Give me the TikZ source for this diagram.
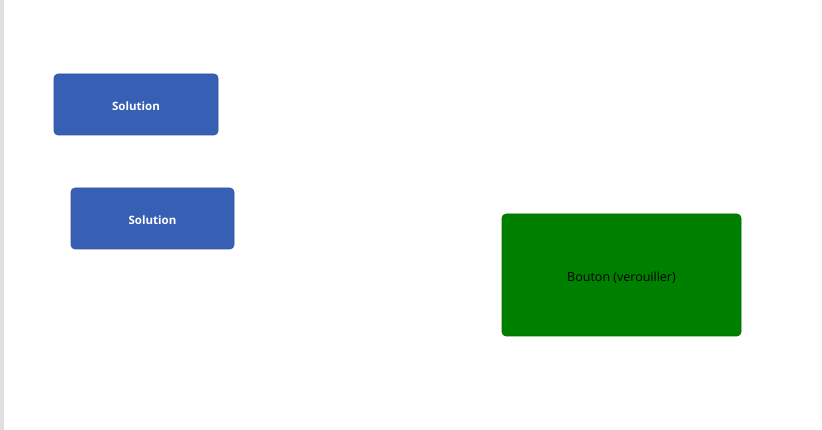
\documentclass[tikz,border=0pt]{standalone}
\usepackage{fontspec}
\setmainfont{Open Sans}
\definecolor{solblue}{HTML}{3760B4}
\definecolor{solborder}{HTML}{2F52A0}
\definecolor{btngreen}{HTML}{008000}
\definecolor{barGrey}{HTML}{E0E0E0}
\tikzset{
  solbox/.style={draw=solborder, fill=solblue, rounded corners=4pt, line width=0.6pt, inner sep=0pt},
  soltext/.style={text=white, font=\bfseries\fontsize{11.5}{13}\selectfont, inner sep=0pt},
  greenbox/.style={draw=btngreen!85!black, fill=btngreen, rounded corners=4pt, line width=0.6pt, inner sep=0pt},
  greentext/.style={text=black, font=\fontsize{12.5}{14}\selectfont, inner sep=0pt}
}
\begin{document}
\begin{tikzpicture}[x=1pt,y=-1pt]
\useasboundingbox (0,0) rectangle (822,430);
\fill[white] (0,0) rectangle (822,430);
\fill[barGrey] (0,0) rectangle (4,430);
\node[solbox, minimum width=164pt, minimum height=61pt] (s1) at (136,104.5) {};
\node[soltext] (s1t) at ([yshift=-1.2pt]s1.center) {Solution};
\node[solbox, minimum width=163pt, minimum height=61pt] (s2) at (152.5,218.5) {};
\node[soltext] (s2t) at ([yshift=-1.2pt]s2.center) {Solution};
\node[greenbox, minimum width=239pt, minimum height=122pt] (b) at (621.5,275) {};
\node[greentext] (bt) at ([yshift=-3pt]b.center) {Bouton (verouiller)};
\end{tikzpicture}
\end{document}
